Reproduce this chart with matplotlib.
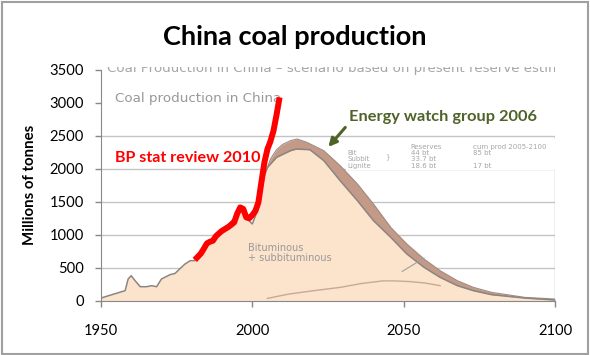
import matplotlib
matplotlib.use("Agg")
import matplotlib.pyplot as plt
from matplotlib.patches import Rectangle
from matplotlib.transforms import Bbox, TransformedBbox

plt.rcParams['font.family'] = ['Lato', 'DejaVu Sans']

# historical + forecast total of bituminous/subbituminous (peach area), Energy Watch Group 2006
peach_years = [1950, 1958, 1959, 1960, 1961.3, 1963, 1965, 1966.8, 1968.4, 1970, 1972.8, 1974.5,
               1976, 1977.8, 1979.5, 1981, 1985, 1990, 1994, 1996, 1998, 2000, 2002, 2004,
               2005, 2008, 2012.6, 2014.5, 2019, 2023.6, 2029, 2034.7, 2040, 2045.7, 2051,
               2056.7, 2062, 2067.7, 2073, 2079, 2090, 2100]
peach_vals = [40, 152, 329, 379, 303, 212, 212, 227, 212, 329, 394, 414,
              481, 557, 607, 607, 860, 1060, 1250, 1390, 1250, 1164, 1400, 1900,
              2022, 2174, 2275, 2300, 2290, 2124, 1820, 1517, 1214, 961, 709,
              506, 354, 228, 152, 91, 40, 10]

# top of the lignite band (brown)
band_years = [2004, 2006, 2008, 2010, 2012.6, 2014.8, 2018, 2023.6, 2029, 2034.7, 2040,
              2045.7, 2051, 2056.7, 2062, 2067.7, 2073, 2079, 2090, 2100]
band_vals = [1900, 2150, 2290, 2370, 2427, 2452, 2402, 2275, 2048, 1770, 1466,
             1112, 860, 632, 455, 303, 202, 126, 50, 25]

# thin lignite line near the bottom
lig_years = [2005, 2012, 2020, 2029, 2036, 2043, 2047, 2052, 2057, 2062]
lig_vals = [35, 100, 150, 202, 260, 300, 300, 290, 268, 228]

# BP statistical review 2010
bp_years = list(range(1981, 2010))
bp_vals = [618, 666, 715, 789, 869, 894, 910, 980, 1021, 1060, 1088, 1116, 1150, 1188, 1320,
           1415, 1391, 1264, 1250, 1299, 1360, 1491, 1800, 2100, 2300, 2420, 2579, 2820, 3084]

x_ticks = [1950, 2000, 2050, 2100]
y_ticks = [0, 500, 1000, 1500, 2000, 2500, 3000, 3500]
bg_grid = [500, 1000, 1500, 2000, 2500]

fig = plt.figure(figsize=(5.9, 3.55), dpi=100)
ax = fig.add_axes([0.171, 0.153, 0.770, 0.650])
ax.set_xlim(1950, 2100)
ax.set_ylim(0, 3500)

# background scan: grid, frame, white legend box
for g in bg_grid:
    ax.plot([1950, 2100], [g, g], color='#c4c4c4', lw=1, zorder=1)
ax.plot([2100, 2100], [0, 2500], color='#b0b0b0', lw=1, zorder=1)
ax.add_patch(Rectangle((2031, 1975), 70, 470, facecolor='white', edgecolor='none', zorder=1.5))

ax.fill_between(band_years, 0, band_vals, color='#c39a88', lw=0, zorder=2)
ax.plot(band_years, band_vals, color='#a08a80', lw=0.8, zorder=2.2)
ax.fill_between(peach_years, 0, peach_vals, color='#fbe3cc', lw=0, zorder=2.5)
ax.plot(peach_years, peach_vals, color='#8c8480', lw=1.1, zorder=2.6)
ax.plot(lig_years, lig_vals, color='#c9a898', lw=1, zorder=2.7)
ax.plot([2049.5, 2056.7], [444, 646], color='#a0a0a0', lw=0.8, zorder=2.8)

gray = '#a6a6a6'
t = ax.text(1952, 3462, 'Coal Production in China \u2013 scenario based on present reserve estimates',
            fontsize=9.6, color=gray, family='DejaVu Sans', va='baseline', ha='left', zorder=3)
t.set_clip_box(TransformedBbox(Bbox([[1950, 0], [2100, 3545]]), ax.transData))
t.set_clip_on(True)
ax.text(1954.6, 3064, 'Coal production in China', fontsize=9.7, color='#999999',
        family='DejaVu Sans', va='center', ha='left', zorder=3)
ax.text(1998.5, 720, 'Bituminous\n+ subbituminous', fontsize=7, color='#999999',
        family='DejaVu Sans', va='center', ha='left', linespacing=1.0, zorder=3)

leg_kw = dict(fontsize=5.0, color=gray, family='DejaVu Sans', va='center', ha='left', zorder=3)
ax.text(2052.3, 2330, 'Reserves', **leg_kw)
ax.text(2072.8, 2330, 'cum prod 2005-2100', **leg_kw)
ax.text(2031.5, 2235, 'Bit', **leg_kw)
ax.text(2052.3, 2235, '44 bt', **leg_kw)
ax.text(2072.8, 2235, '85 bt', **leg_kw)
ax.text(2031.5, 2143, 'Subbit', **leg_kw)
ax.text(2044, 2189, '}', **leg_kw)
ax.text(2052.3, 2143, '33.7 bt', **leg_kw)
ax.text(2031.5, 2050, 'Lignite', **leg_kw)
ax.text(2052.3, 2050, '18.6 bt', **leg_kw)
ax.text(2072.8, 2050, '17 bt', **leg_kw)

# BP line on top
ax.plot(bp_years, bp_vals, color='#ff0000', lw=4.3, solid_capstyle='butt', zorder=5)

ax.text(1954.5, 2165, 'BP stat review 2010', color='#ff0000', fontsize=11.6,
        fontweight='bold', va='center', ha='left', zorder=6)
ax.text(2031.8, 2780, 'Energy watch group 2006', color='#4f6228', fontsize=11.8,
        fontweight='bold', va='center', ha='left', zorder=6)
ax.annotate('', xy=(2024.5, 2300), xytext=(2031.3, 2660),
            arrowprops=dict(arrowstyle='-|>', color='#4f6228', lw=2.2, mutation_scale=12),
            zorder=6)

ax.set_xticks(x_ticks)
ax.set_yticks(y_ticks)
ax.tick_params(axis='both', labelsize=10.6, colors='#888888', labelcolor='black', length=4, width=1)
ax.tick_params(axis='y', pad=8)
ax.tick_params(axis='x', pad=13)
ax.spines['top'].set_visible(False)
ax.spines['right'].set_visible(False)
ax.spines['left'].set_color('#888888')
ax.spines['bottom'].set_color('#888888')
ax.set_ylabel('Millions of tonnes', fontsize=10.8, fontweight='bold', labelpad=9)

fig.text(0.5, 0.897, 'China coal production', fontsize=19.5, fontweight='bold', ha='center', va='center')

# outer border
fig.patches.append(Rectangle((0.003, 0.004), 0.994, 0.99, transform=fig.transFigure,
                             fill=False, edgecolor='#a0a0a0', lw=1.5))

fig.savefig('out.png', dpi=100)
